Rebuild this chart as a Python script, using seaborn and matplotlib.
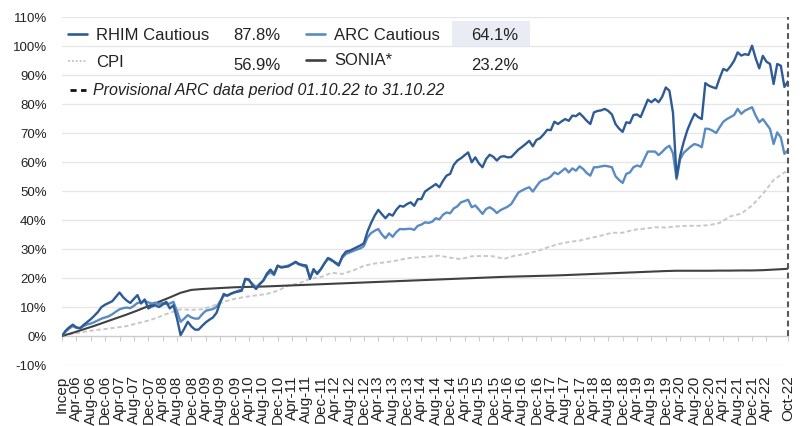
import numpy as np
import pandas as pd
import matplotlib
matplotlib.use("Agg")
import matplotlib.pyplot as plt
import seaborn as sns
from matplotlib.lines import Line2D
from matplotlib.patches import Rectangle

# --- DATA (cumulative return, %) ---
START = "2005-12-01"   # "Incep"

rhim = [
    0.0, 1.8, 3.0, 3.9, 3.0, 2.6, 3.8, 4.8, 5.8, 7.0,
    8.3, 10.0, 10.8, 11.4, 12.0, 13.5, 15.0, 13.4, 12.2, 11.4,
    12.8, 14.1, 11.2, 12.6, 9.5, 10.2, 10.6, 10.0, 10.8, 11.8,
    9.5, 10.6, 6.0, 0.3, 2.5, 4.9, 3.3, 2.2, 2.2, 3.5,
    4.7, 5.6, 6.4, 8.0, 11.5, 14.5, 13.9, 14.6, 15.1, 15.3,
    15.6, 19.7, 19.5, 17.5, 16.2, 17.8, 19.1, 21.5, 22.9, 21.4,
    24.3, 23.6, 23.8, 24.0, 24.8, 25.6, 24.8, 24.5, 24.3, 19.7,
    23.1, 21.4, 23.0, 25.0, 26.9, 26.3, 25.2, 24.3, 27.5, 29.1,
    29.4, 30.0, 30.6, 31.2, 32.0, 36.0, 39.0, 41.5, 43.5, 42.0,
    40.6, 42.1, 41.5, 43.5, 44.9, 44.6, 45.5, 46.1, 44.9, 47.2,
    47.2, 49.8, 50.7, 51.5, 52.4, 51.3, 53.5, 55.3, 55.9, 59.0,
    60.5, 61.3, 62.3, 63.3, 59.9, 61.6, 59.5, 58.2, 61.0, 62.5,
    61.8, 60.5, 61.8, 62.0, 61.6, 61.7, 63.0, 64.3, 65.2, 66.2,
    67.3, 65.4, 67.6, 68.2, 69.5, 71.1, 71.0, 73.9, 73.1, 74.0,
    74.8, 74.2, 76.0, 75.8, 76.8, 75.6, 74.2, 73.1, 77.1, 77.6,
    77.8, 78.3, 77.6, 76.4, 73.1, 71.5, 70.4, 73.7, 73.4, 76.2,
    76.4, 75.5, 78.5, 81.5, 80.6, 81.7, 80.6, 82.5, 85.7, 84.6,
    77.0, 54.7, 62.2, 67.0, 71.0, 74.0, 76.6, 75.5, 74.8, 87.2,
    86.3, 85.8, 85.4, 89.0, 92.1, 91.5, 93.0, 94.9, 97.8, 96.7,
    97.2, 96.9, 100.1, 95.8, 92.3, 96.6, 94.6, 93.8, 86.9, 93.8,
    93.2, 85.9, 87.8,
]

arc = [
    0.0, 1.5, 2.6, 3.4, 2.8, 2.8, 3.4, 4.0, 4.3, 4.8,
    5.4, 6.0, 6.4, 6.8, 7.5, 8.4, 9.2, 9.6, 9.8, 9.6,
    10.4, 11.4, 11.6, 12.1, 11.6, 11.2, 11.5, 11.0, 11.4, 11.0,
    11.2, 11.8, 8.5, 4.9, 6.0, 7.2, 6.4, 6.0, 6.0, 7.5,
    8.7, 9.0, 9.3, 10.0, 12.0, 13.9, 14.0, 14.5, 15.0, 15.6,
    16.0, 19.7, 19.2, 18.0, 16.8, 18.0, 19.1, 21.0, 22.0, 21.0,
    24.1, 23.8, 24.0, 24.3, 24.8, 25.3, 24.6, 24.2, 23.7, 20.2,
    22.5, 21.8, 23.0, 25.0, 26.6, 26.0, 25.5, 24.8, 27.0, 28.3,
    28.8, 29.3, 29.8, 30.2, 31.0, 34.0, 35.5, 36.3, 36.9, 35.0,
    33.7, 35.4, 34.2, 35.8, 36.9, 36.8, 36.9, 37.0, 36.6, 38.0,
    38.4, 39.2, 39.0, 39.4, 40.6, 40.2, 41.8, 42.6, 42.3, 44.0,
    44.7, 46.1, 46.5, 47.0, 44.4, 45.0, 43.6, 42.1, 43.8, 44.4,
    43.6, 42.4, 43.4, 44.0, 44.6, 45.5, 47.5, 49.5, 50.2, 50.8,
    51.3, 49.8, 51.6, 53.2, 53.9, 54.2, 55.0, 56.4, 55.8, 56.8,
    57.8, 56.4, 57.8, 57.0, 58.5, 57.6, 56.2, 55.3, 58.2, 58.2,
    58.5, 58.7, 58.5, 58.2, 55.1, 53.8, 52.8, 55.9, 56.4, 58.2,
    58.8, 58.4, 61.0, 63.6, 63.6, 63.6, 62.4, 63.5, 64.8, 65.6,
    63.0, 54.1, 61.0, 63.2, 64.3, 65.4, 66.2, 65.8, 65.1, 71.5,
    71.4, 70.8, 70.0, 72.0, 73.9, 74.8, 75.5, 76.2, 78.3, 76.6,
    77.7, 78.3, 78.9, 76.0, 73.7, 74.8, 73.1, 71.4, 66.2, 70.2,
    68.5, 62.8, 64.1,
]

bench_months = list(range(0, 202, 3)) + [202]

cpi = [
    0.0, 0.8, 1.4, 2.0, 2.4, 2.9, 3.4, 4.4, 5.3, 6.6,
    8.0, 9.2, 9.0, 9.2, 10.4, 11.8, 12.8, 13.5, 14.0, 14.5,
    15.6, 17.4, 18.2, 19.7, 20.3, 21.8, 21.4, 22.6, 24.2, 25.0,
    25.4, 26.0, 26.8, 27.1, 27.4, 27.7, 27.0, 26.5, 27.5, 27.6,
    27.5, 26.6, 27.7, 28.3, 29.2, 30.5, 31.7, 32.4, 32.9, 33.8,
    34.6, 35.6, 35.6, 36.6, 37.0, 37.5, 37.4, 37.8, 38.0, 38.0,
    38.2, 39.0, 41.3, 42.2, 45.0, 49.0, 53.8, 56.4, 56.9,
]

sonia = [
    0.0, 1.1, 2.3, 3.5, 4.8, 6.1, 7.4, 8.8, 10.3, 11.8,
    13.3, 14.9, 15.9, 16.2, 16.4, 16.6, 16.8, 16.9, 17.0, 17.1,
    17.25, 17.4, 17.55, 17.7, 17.85, 18.0, 18.15, 18.3, 18.45, 18.6,
    18.75, 18.9, 19.05, 19.2, 19.35, 19.5, 19.65, 19.8, 19.95, 20.1,
    20.25, 20.4, 20.5, 20.6, 20.7, 20.8, 20.9, 21.05, 21.2, 21.35,
    21.5, 21.65, 21.8, 21.95, 22.1, 22.25, 22.4, 22.5, 22.5, 22.5,
    22.5, 22.55, 22.55, 22.6, 22.6, 22.7, 22.9, 23.1, 23.2,
]

legend_names = ["RHIM Cautious", "ARC Cautious", "CPI", "SONIA*"]
legend_values = ["87.8%", "64.1%", "56.9%", "23.2%"]
note_text = "Provisional ARC data period 01.10.22 to 31.10.22"

C_RHIM = "#2f5b94"
C_ARC = "#5a8bc2"
C_CPI = "#c8c8c8"
C_SONIA = "#404040"
C_TEXT = "#222222"

W, H = 804, 427


def fx(px):
    return px / W


def fy(py):
    return 1 - py / H


sns.set_theme(style="white")
plt.rcParams["font.family"] = ["Liberation Sans", "DejaVu Sans"]

dates = pd.date_range(START, periods=len(rhim), freq="MS")
n_last = len(rhim) - 1
tick_idx = list(range(0, n_last - 4, 4)) + [n_last]
tick_lab = ["Incep"] + [dates[i].strftime("%b-%y") for i in tick_idx[1:]]

funds = pd.DataFrame({"m": np.arange(len(rhim)), "rhim": rhim, "arc": arc})
bench = pd.DataFrame({"m": bench_months, "cpi": cpi, "sonia": sonia})

fig = plt.figure(figsize=(W / 100, H / 100), dpi=100)
ax = fig.add_axes([fx(62), fy(366), (788 - 62) / W, (366 - 18) / H])

yt = list(range(-10, 111, 10))
for v in yt:
    if v != 0:
        ax.axhline(v, color="#e6e6e6", lw=0.9, zorder=0)

sns.lineplot(data=bench, x="m", y="cpi", ax=ax, color=C_CPI, lw=1.4,
             linestyle=(0, (2.2, 1.4)), zorder=2)
sns.lineplot(data=bench, x="m", y="sonia", ax=ax, color=C_SONIA, lw=1.5, zorder=3)
sns.lineplot(data=funds, x="m", y="arc", ax=ax, color=C_ARC, lw=1.7, zorder=4)
sns.lineplot(data=funds, x="m", y="rhim", ax=ax, color=C_RHIM, lw=1.7, zorder=5)

# provisional data marker at the last month
ax.plot([n_last, n_last], [0, 110], color="#5f5555", lw=1.5,
        linestyle=(0, (2.8, 1.8)), zorder=6, clip_on=False)

# spine position first: moving it resets the tick styling
for s in ["top", "right", "left"]:
    ax.spines[s].set_visible(False)
ax.spines["bottom"].set_position(("data", 0))
ax.spines["bottom"].set_color("#cccccc")
ax.spines["bottom"].set_linewidth(1.0)
ax.spines["bottom"].set_zorder(1)

ax.set_xlim(0, n_last)
ax.set_ylim(-10, 110)
ax.set_yticks(yt)
ax.set_yticklabels([f"{v}%" for v in yt])
ax.set_xticks(tick_idx)
ax.set_xticklabels(tick_lab)
ax.set_xlabel("")
ax.set_ylabel("")

ax.tick_params(axis="x", length=3.6, width=0.8, color="#cccccc", direction="out",
               pad=24, labelsize=11, labelcolor=C_TEXT, bottom=True, labelrotation=90)
ax.tick_params(axis="y", length=0, pad=11, labelsize=9.5, labelcolor=C_TEXT)

# --- legend (drawn by hand to match the layout) ---
fig.add_artist(Rectangle((fx(452), fy(47)), (530 - 452) / W, (47 - 22) / H,
                         transform=fig.transFigure, facecolor="#e9ecf4",
                         edgecolor="none", zorder=7))

rows = [
    (35, 35, 35, 35, 35),
    (62, 63, 66, 61, 66),
]
handles = [
    dict(color=C_RHIM, lw=1.9, linestyle="-"),
    dict(color=C_ARC, lw=1.9, linestyle="-"),
    dict(color=C_CPI, lw=1.4, linestyle=(0, (1, 1))),
    dict(color=C_SONIA, lw=1.9, linestyle="-"),
]
for i, (name, val) in enumerate(zip(legend_names, legend_values)):
    r, c = divmod(i, 2)
    y_line, y_name, y_val = rows[r][0], rows[r][1], rows[r][2]
    if c == 1:
        y_line, y_name = rows[r][3], rows[r][3]
        y_val = rows[r][4]
    x0 = 68 + c * 238
    fig.add_artist(Line2D([fx(x0), fx(x0 + 19)], [fy(y_line), fy(y_line)],
                          transform=fig.transFigure, zorder=8, **handles[i]))
    fig.text(fx(x0 + 28), fy(y_name), name, ha="left", va="center",
             fontsize=12, color=C_TEXT, zorder=8)
    fig.text(fx(x0 + 165), fy(y_val), val, ha="left", va="center",
             fontsize=12, color=C_TEXT, zorder=8)

fig.add_artist(Line2D([fx(70), fx(86)], [fy(91), fy(91)], transform=fig.transFigure,
                      color="#111111", lw=2.0, linestyle=(0, (2.2, 1.6)), zorder=8))
fig.text(fx(93), fy(91), note_text, ha="left", va="center", fontsize=11.5,
         style="italic", color=C_TEXT, zorder=8)

fig.savefig("out.png", dpi=100)
